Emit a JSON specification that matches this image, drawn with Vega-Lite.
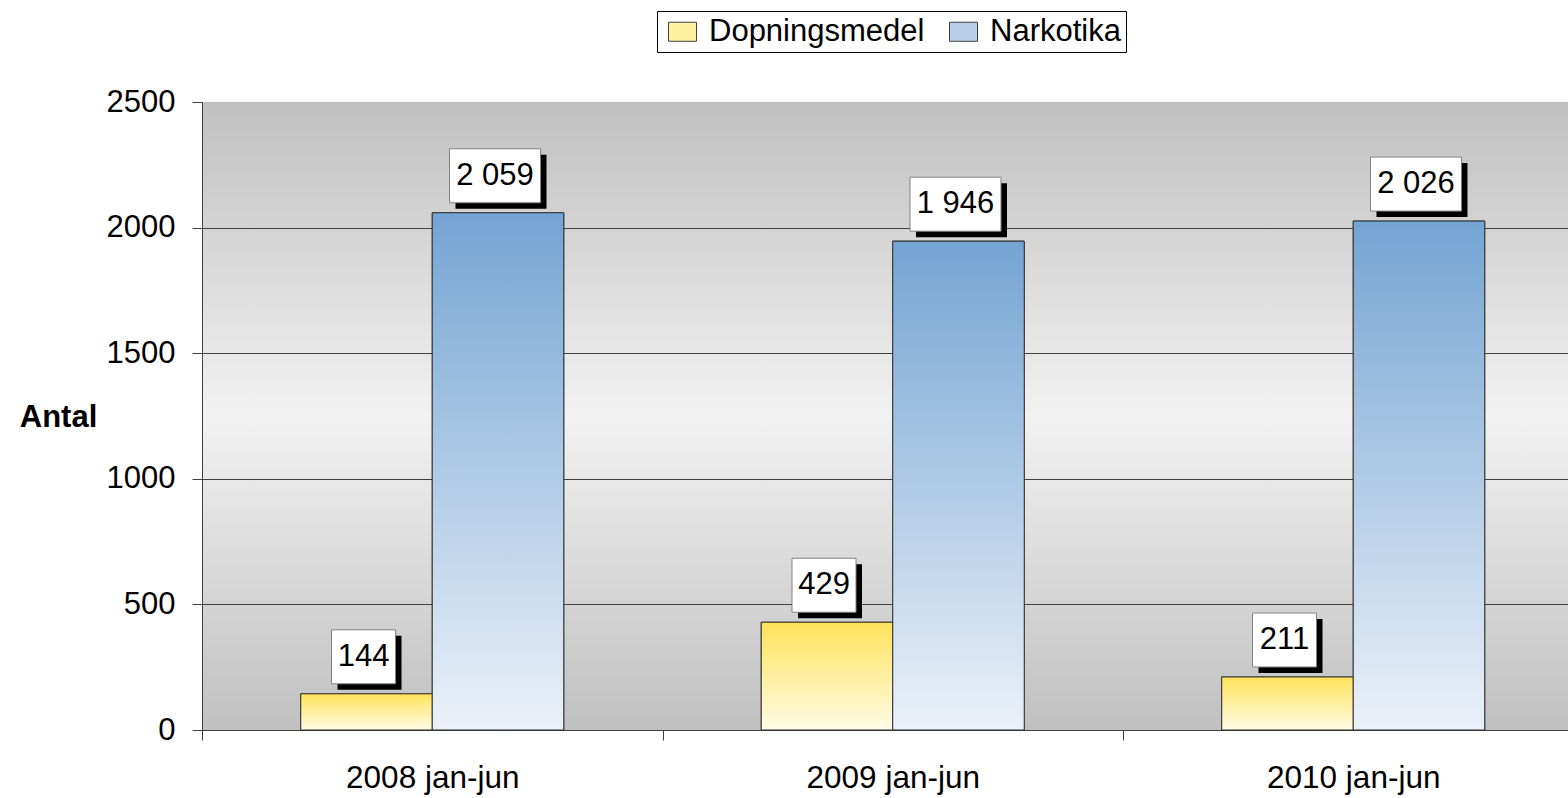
{
  "$schema": "https://vega.github.io/schema/vega-lite/v6.json",
  "width": 1366,
  "height": 628,
  "autosize": {"type": "none"},
  "padding": {"left": 202, "top": 102, "right": 0, "bottom": 68},
  "background": "white",
  "view": {
    "fill": {"gradient": "linear", "x1": 0, "y1": 0, "x2": 0, "y2": 1,
      "stops": [{"offset": 0, "color": "#c0c0c0"}, {"offset": 0.5, "color": "#f2f2f2"}, {"offset": 1, "color": "#c0c0c0"}]},
    "stroke": null
  },
  "config": {
    "font": "Liberation Sans",
    "locale": {"number": {"decimal": ",", "thousands": " ", "grouping": [3], "currency": ["", " kr"]}}
  },
  "data": {
    "values": [
      {"period": "2008 jan-jun", "serie": "Dopningsmedel", "antal": 144},
      {"period": "2008 jan-jun", "serie": "Narkotika", "antal": 2059},
      {"period": "2009 jan-jun", "serie": "Dopningsmedel", "antal": 429},
      {"period": "2009 jan-jun", "serie": "Narkotika", "antal": 1946},
      {"period": "2010 jan-jun", "serie": "Dopningsmedel", "antal": 211},
      {"period": "2010 jan-jun", "serie": "Narkotika", "antal": 2026}
    ]
  },
  "encoding": {
    "x": {
      "field": "period", "type": "nominal", "sort": null,
      "scale": {"range": [0, 1381.5], "paddingInner": 0.4289, "paddingOuter": 0.2145},
      "axis": {"title": null, "labelFontSize": 31.5, "labelColor": "black", "labelPadding": 22, "labelAngle": 0,
        "tickOffset": -230.25, "labelOffset": 230.25, "tickSize": 10, "tickColor": "#404040", "domainColor": "#404040", "grid": false}
    },
    "xOffset": {"field": "serie", "type": "nominal", "sort": ["Dopningsmedel", "Narkotika"], "scale": {"paddingInner": 0, "paddingOuter": 0}},
    "y": {
      "field": "antal", "type": "quantitative",
      "scale": {"domain": [0, 2500], "nice": false},
      "axis": {"title": "Antal", "titleAngle": 0, "titleFontSize": 31, "titleFontWeight": "bold", "titleColor": "black",
        "titleX": -144, "titleY": 324, "titleAlign": "center", "titleBaseline": "alphabetic",
        "labelFontSize": 31, "labelColor": "black", "labelPadding": 17, "tickSize": 10, "tickColor": "#404040",
        "domainColor": "#404040", "values": [0, 500, 1000, 1500, 2000, 2500], "format": "d",
        "grid": true, "gridColor": "#404040",
        "gridOpacity": {"condition": {"test": "datum.value >= 2500", "value": 0}, "value": 1}}
    }
  },
  "layer": [
    {
      "mark": {"type": "bar", "stroke": "#333333", "strokeWidth": 1},
      "encoding": {
        "fill": {
          "field": "serie", "type": "nominal",
          "scale": {"domain": ["Dopningsmedel", "Narkotika"], "range": ["#fff0a0", "#b9d0ea"]},
          "legend": {"title": null, "orient": "none", "legendX": 455, "legendY": -91, "direction": "horizontal",
            "strokeColor": "black", "fillColor": "white", "padding": 5, "labelFontSize": 31, "labelColor": "black",
            "labelLimit": 500,
            "symbolType": "M-1,-0.68H1V0.68H-1Z", "symbolSize": 784, "symbolStrokeColor": "#404040", "symbolStrokeWidth": 1,
            "labelOffset": 11, "columnPadding": 18, "symbolOffset": 5}
        }
      }
    },
    {
      "transform": [{"filter": "datum.serie == 'Dopningsmedel'"}],
      "mark": {"type": "bar", "stroke": "#333333", "strokeWidth": 1,
        "fill": {"gradient": "linear", "x1": 0, "y1": 0, "x2": 0, "y2": 1, "stops": [{"offset": 0, "color": "#ffe35a"}, {"offset": 1, "color": "#fffbe6"}]}}
    },
    {
      "transform": [{"filter": "datum.serie == 'Narkotika'"}],
      "mark": {"type": "bar", "stroke": "#333333", "strokeWidth": 1,
        "fill": {"gradient": "linear", "x1": 0, "y1": 0, "x2": 0, "y2": 1, "stops": [{"offset": 0, "color": "#74a4d3"}, {"offset": 1, "color": "#ebf1f9"}]}}
    },
    {
      "transform": [{"filter": "datum.serie == 'Dopningsmedel'"}],
      "mark": {"type": "point", "shape": "M-29,-58H35V-4H-29Z", "size": 4, "filled": true, "fill": "black", "strokeWidth": 0, "opacity": 1}
    },
    {
      "transform": [{"filter": "datum.serie == 'Narkotika'"}],
      "mark": {"type": "point", "shape": "M-42.5,-58H48.5V-4H-42.5Z", "size": 4, "filled": true, "fill": "black", "strokeWidth": 0, "opacity": 1}
    },
    {
      "transform": [{"filter": "datum.serie == 'Dopningsmedel'"}],
      "mark": {"type": "point", "shape": "M-35,-64H29V-10H-35Z", "size": 4, "filled": true, "fill": "white", "stroke": "#808080", "strokeWidth": 1, "opacity": 1}
    },
    {
      "transform": [{"filter": "datum.serie == 'Narkotika'"}],
      "mark": {"type": "point", "shape": "M-48.5,-64H42.5V-10H-48.5Z", "size": 4, "filled": true, "fill": "white", "stroke": "#808080", "strokeWidth": 1, "opacity": 1}
    },
    {
      "mark": {"type": "text", "fontSize": 31, "color": "black", "dx": -3, "dy": -37, "baseline": "middle"},
      "encoding": {"text": {"field": "antal", "type": "quantitative", "format": ",d"}}
    }
  ]
}
